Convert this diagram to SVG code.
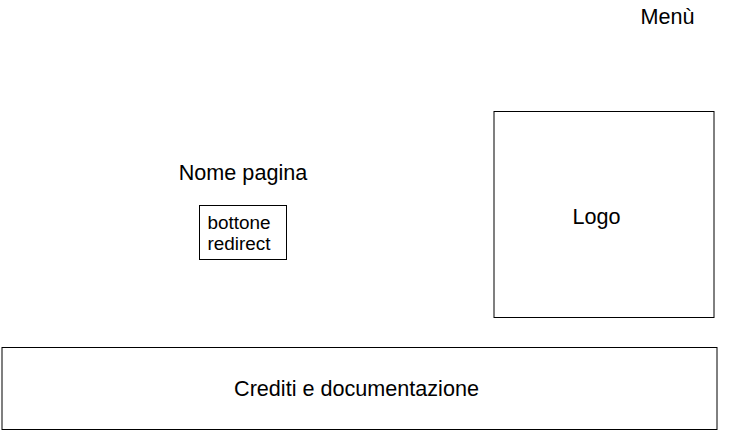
<svg xmlns="http://www.w3.org/2000/svg" width="736" height="436" viewBox="0 0 736 436">
<style>
.box{fill:#fff;stroke:#000;stroke-width:1}
.t{font-family:"Liberation Sans",Arial,sans-serif;font-size:21.6px;fill:#000}
.b{font-family:"Liberation Sans",Arial,sans-serif;font-size:18.9px;fill:#000}
</style>
<rect width="736" height="436" fill="#fff"/>
<g id="menu"><text class="t" x="667.5" y="24" text-anchor="middle">Menù</text></g>
<g id="nome-pagina"><text class="t" x="243" y="179.5" text-anchor="middle">Nome pagina</text></g>
<g id="bottone"><rect class="box" x="199.5" y="205.5" width="87" height="54"/>
<text class="b" x="207.5" y="229">bottone</text><text class="b" x="207.5" y="250">redirect</text></g>
<g id="logo"><rect class="box" x="494" y="111.5" width="220" height="206"/>
<text class="t" x="596.5" y="224" text-anchor="middle">Logo</text></g>
<g id="crediti"><rect class="box" x="2" y="347.5" width="715" height="82"/>
<text class="t" x="356.5" y="395.5" text-anchor="middle">Crediti e documentazione</text></g>
<g id="connectors"></g>
</svg>
